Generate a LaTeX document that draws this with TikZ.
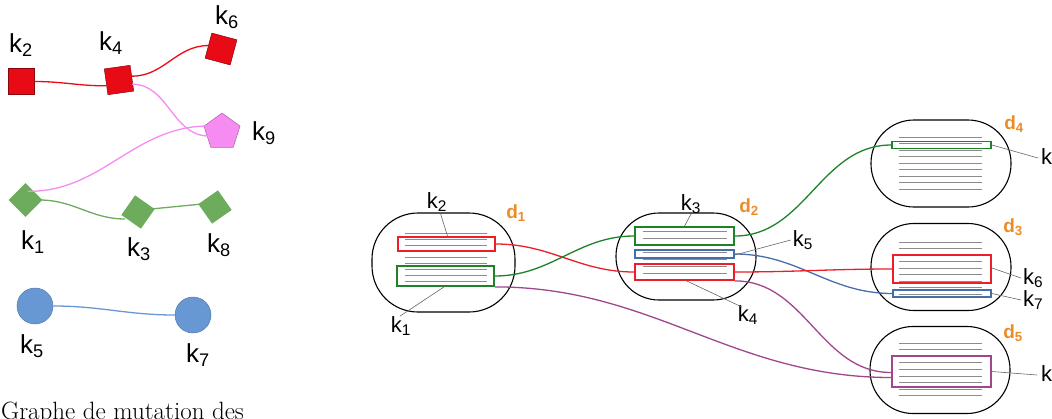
\documentclass[tikz,border=0pt]{standalone}
\usepackage{fontspec}
\newfontfamily\labfont{Liberation Sans}
\usetikzlibrary{
  positioning,
  shapes.geometric,
}
\definecolor{sqred}{RGB}{232,10,20}
\definecolor{pinkish}{RGB}{246,140,242}
\definecolor{leafgreen}{RGB}{108,172,92}
\definecolor{skyblue}{RGB}{104,152,212}
\definecolor{boxgreen}{RGB}{30,130,40}
\definecolor{boxred}{RGB}{236,30,40}
\definecolor{boxblue}{RGB}{70,110,170}
\definecolor{boxpurple}{RGB}{160,70,140}
\definecolor{dorange}{RGB}{236,140,40}
\tikzset{
  blob/.style={draw,line width=1.1pt,rectangle,rounded corners=43pt,minimum width=140pt,minimum height=87pt},
  kbox/.style={draw=#1,line width=1.8pt,rectangle,inner sep=0pt},
  strand/.style={line width=1.3pt},
  leader/.style={black!60,line width=0.6pt},
  row/.style={black!45,line width=0.7pt},
  klab/.style={font=\labfont\fontsize{22}{22}\selectfont,inner sep=0pt},
  glab/.style={font=\labfont\fontsize{26}{26}\selectfont,inner sep=0pt},
  dlab/.style={font=\labfont\bfseries\fontsize{19}{19}\selectfont,text=dorange,inner sep=0pt},
  sq/.style={draw=sqred!60!black,line width=0.5pt,fill=sqred,rectangle,minimum size=26pt,inner sep=0pt},
  dm/.style={fill=leafgreen,diamond,minimum size=34pt,inner sep=0pt},
  ball/.style={draw=skyblue!80!black,line width=0.5pt,fill=skyblue,circle,minimum size=36pt,inner sep=0pt},
}
\newcommand{\kname}[1]{k\textsubscript{#1}}

\begin{document}
\begin{tikzpicture}[x=1pt,y=-1pt]
  \useasboundingbox (0,0) rectangle (1052,418);
  \clip (0,0) rectangle (1052,418);

  % mutation graph
  \node[sq]                  (k2) at (21.5,81.5) {};
  \node[sq,rotate=8]         (k4) at (119,80)    {};
  \node[sq,rotate=-15]       (k6) at (221,49)    {};
  \node[draw=pinkish!70!black,line width=0.5pt,fill=pinkish,regular polygon,regular polygon sides=5,minimum size=38pt,inner sep=0pt] (k9) at (222,132) {};
  \node[dm]                  (k1) at (25.5,200)  {};
  \node[dm,rotate=10]        (k3) at (138,212)   {};
  \node[dm,rotate=-10]       (k8) at (215,207)   {};
  \node[ball]                (k5) at (35,306)    {};
  \node[ball]                (k7) at (193,315)   {};

  \node[glab] (l2) at (21,45)   {\kname{2}};
  \node[glab] (l4) at (111,43)  {\kname{4}};
  \node[glab] (l6) at (227,17)  {\kname{6}};
  \node[glab] (l9) at (264,133) {\kname{9}};
  \node[glab] (l1) at (33,242)  {\kname{1}};
  \node[glab] (l3) at (139,249) {\kname{3}};
  \node[glab] (l8) at (219,245) {\kname{8}};
  \node[glab] (l5) at (32,346)  {\kname{5}};
  \node[glab] (l7) at (198,355) {\kname{7}};

  \draw[strand,sqred] (k2.east) to[out=0,in=180] ([yshift=-4pt]k4.west);
  \draw[strand,sqred] ([yshift=2pt]k4.east) to[out=0,in=180] (k6.west);
  \draw[strand,pinkish] ([yshift=-6pt]k4.east) to[out=0,in=180] ([xshift=3pt,yshift=-4pt]k9.west);
  \draw[strand,pinkish] ([xshift=3pt,yshift=6pt]k9.west) to[out=180,in=0] ([xshift=-6pt]k1.north east);
  \draw[strand,leafgreen] ([xshift=-3pt]k1.east) to[out=0,in=180] ([xshift=4pt,yshift=-4pt]k3.west);
  \draw[strand,leafgreen] ([xshift=-4pt]k3.east) -- ([xshift=4pt]k8.west);
  \draw[strand,skyblue] (k5.east) to[out=0,in=180] (k7.west);

  \node[anchor=base west,font=\fontsize{25}{25}\selectfont,inner sep=0pt] (caption) at (1,419) {Graphe de mutation des};

  % sequences in each sample
  \node[blob,minimum width=143pt,minimum height=99pt,rounded corners=46pt] (d1) at (443.5,262.5) {};
  \node[blob] (d2) at (686,256.5) {};
  \node[blob] (d4) at (941,163.5) {};
  \node[blob] (d3) at (941,267) {};
  \node[blob] (d5) at (940,370) {};

  \foreach \y in {233,239,...,281} \draw[row] (405,\y) -- (487,\y);
  \foreach \y in {231,238,...,280} \draw[row] (643,\y) -- (727,\y);
  \foreach \y in {137,143.5,...,190} \draw[row] (899,\y) -- (982,\y);
  \foreach \y in {242,248.5,...,295} \draw[row] (899,\y) -- (982,\y);
  \foreach \y in {343,349.6,...,397} \draw[row] (899,\y) -- (982,\y);

  \node[kbox=boxred,minimum width=97pt,minimum height=14pt]    (d1k2) at (446.5,244)   {};
  \node[kbox=boxgreen,minimum width=97pt,minimum height=20pt]  (d1k1) at (445.5,276)   {};
  \node[kbox=boxgreen,minimum width=99pt,minimum height=18pt]  (d2k3) at (684.5,236)   {};
  \node[kbox=boxblue,minimum width=99pt,minimum height=8pt]    (d2k5) at (684.5,254)   {};
  \node[kbox=boxred,minimum width=99pt,minimum height=16pt]    (d2k4) at (684.5,272)   {};
  \node[kbox=boxgreen,minimum width=99pt,minimum height=7pt]   (d4k8) at (941.5,145)   {};
  \node[kbox=boxred,minimum width=98pt,minimum height=28pt]    (d3k6) at (942,269)     {};
  \node[kbox=boxblue,minimum width=98pt,minimum height=7pt]    (d3k7) at (942,293.5)   {};
  \node[kbox=boxpurple,minimum width=99pt,minimum height=31pt] (d5k9) at (941.5,371.5) {};

  \draw[strand,boxred] (d1k2.east) to[out=0,in=180] (d2k4.west);
  \draw[strand,boxgreen] (d1k1.east) to[out=0,in=180] (d2k3.west);
  \draw[strand,boxpurple] (d1k1.south east) to[out=0,in=180] ([yshift=-6pt]d5k9.west);
  \draw[strand,boxpurple] (d2k4.south east) to[out=0,in=180] ([yshift=-1pt]d5k9.west);
  \draw[strand,boxgreen] (d2k3.east) to[out=0,in=180] (d4k8.west);
  \draw[strand,boxblue] (d2k5.east) to[out=0,in=180] (d3k7.west);
  \draw[strand,boxred] (d2k4.east) to[out=0,in=180] (d3k6.west);

  \node[dlab] (n1) at (516,213) {d\textsubscript{1}};
  \node[dlab] (n2) at (749,207) {d\textsubscript{2}};
  \node[dlab] (n4) at (1014,124) {d\textsubscript{4}};
  \node[dlab] (n3) at (1013,227) {d\textsubscript{3}};
  \node[dlab] (n5) at (1013,333) {d\textsubscript{5}};

  \node[klab] (t2) at (437,202) {\kname{2}};
  \node[klab] (t1) at (401,326) {\kname{1}};
  \node[klab] (t3) at (691,204) {\kname{3}};
  \node[klab] (t5) at (803,240) {\kname{5}};
  \node[klab] (t4) at (748,315) {\kname{4}};
  \node[klab,anchor=west] (t8) at (1041,158) {\kname{8}};
  \node[klab,anchor=west] (t6) at (1023,278) {\kname{6}};
  \node[klab,anchor=west] (t7) at (1023,300) {\kname{7}};
  \node[klab,anchor=west] (t9) at (1041,375) {\kname{9}};

  \draw[leader] ([xshift=3pt]t2.south) -- ([xshift=1pt]d1k2.north);
  \draw[leader] ([xshift=-1pt]t1.north) -- ([yshift=1pt]d1k1.south);
  \draw[leader] (t3.south) -- (d2k3.north);
  \draw[leader] ([xshift=-2pt]t5.west) -- ([yshift=-1pt]d2k5.east);
  \draw[leader] ([xshift=-6pt,yshift=-2pt]t4.north) -- ([yshift=1pt]d2k4.south);
  \draw[leader] (d4k8.east) -- ([xshift=-3pt]t8.west);
  \draw[leader] ([yshift=1pt]d3k6.east) -- ([xshift=-2pt]t6.west);
  \draw[leader] (d3k7.east) -- ([xshift=-2pt]t7.west);
  \draw[leader] (d5k9.east) -- ([xshift=-4pt]t9.west);
\end{tikzpicture}
\end{document}
